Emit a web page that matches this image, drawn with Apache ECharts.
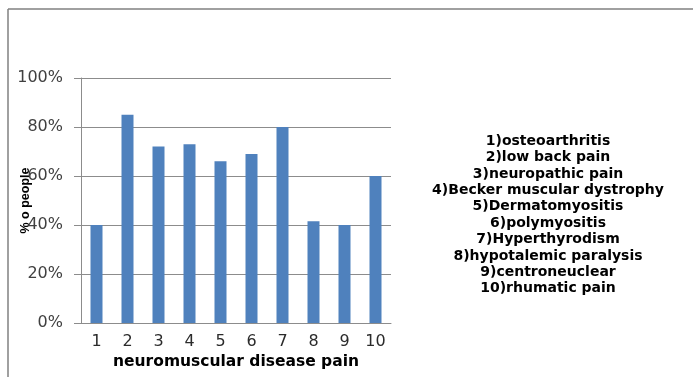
<!DOCTYPE html>
<html>
<head>
<meta charset="utf-8">
<script src="https://cdn.jsdelivr.net/npm/echarts@6/dist/echarts.min.js"></script>
<style>
  html, body { margin: 0; padding: 0; background: #ffffff; }
  #chart { width: 693px; height: 377px; }
</style>
</head>
<body>
<div id="chart"></div>
<script>
// Category numbers along the x axis
const categories = ['1', '2', '3', '4', '5', '6', '7', '8', '9', '10'];
// Share of people (%) for each condition
const percentPeople = [40, 85, 72, 73, 66, 69, 80, 41.5, 40, 60];
// Condition names shown in the key on the right
const conditionNames = [
  'osteoarthritis',
  'low back pain',
  'neuropathic pain',
  'Becker muscular dystrophy',
  'Dermatomyositis',
  'polymyositis',
  'Hyperthyrodism',
  'hypotalemic paralysis',
  'centroneuclear',
  'rhumatic pain'
];
// Y axis ticks (%)
const yTicks = [0, 20, 40, 60, 80, 100];

const fontFam = '"DejaVu Sans", "Liberation Sans", sans-serif';
const keyText = conditionNames.map((n, i) => categories[i] + ')' + n).join('\n');

const chart = echarts.init(document.getElementById('chart'));
chart.setOption({
  backgroundColor: '#ffffff',
  animation: false,
  grid: { left: 81, right: 302, top: 78, bottom: 54, containLabel: false },
  xAxis: {
    type: 'category',
    data: categories,
    name: 'neuromuscular disease pain',
    nameLocation: 'middle',
    nameGap: 31,
    nameMoveOverlap: false,
    nameTextStyle: { fontFamily: fontFam, fontWeight: 'bold', fontSize: 15.5, color: '#000000' },
    axisLine: { lineStyle: { color: '#8c8c8c', width: 1 } },
    axisTick: { show: false },
    axisLabel: { fontFamily: fontFam, fontSize: 16, color: '#2b2b2b', margin: 11 }
  },
  yAxis: {
    type: 'value',
    min: yTicks[0],
    max: yTicks[yTicks.length - 1],
    interval: 20,
    name: '% o people',
    nameLocation: 'middle',
    nameGap: 49,
    nameMoveOverlap: false,
    nameRotate: 90,
    nameTextStyle: { fontFamily: '"Liberation Sans", Arial, sans-serif', fontWeight: 'bold', fontSize: 12.5, color: '#000000' },
    axisLine: { show: true, lineStyle: { color: '#8c8c8c', width: 1 } },
    axisTick: { show: true, length: 7, lineStyle: { color: '#8c8c8c' } },
    axisLabel: { formatter: '{value}%', fontFamily: fontFam, fontSize: 16, color: '#404040', margin: 18 },
    splitLine: { lineStyle: { color: '#8c8c8c', width: 1 } }
  },
  series: [{
    type: 'bar',
    data: percentPeople,
    barWidth: 12,
    itemStyle: { color: '#4f81bd' }
  }],
  graphic: [
    { type: 'line', shape: { x1: 8, y1: 9, x2: 700, y2: 9 }, style: { stroke: '#808080', lineWidth: 1.5 } },
    { type: 'line', shape: { x1: 8, y1: 9, x2: 8, y2: 380 }, style: { stroke: '#808080', lineWidth: 1.5 } },
    {
      type: 'text',
      left: 548 - 130,
      top: 133,
      style: {
        text: keyText,
        x: 0, y: 0,
        width: 260,
        align: 'center',
        textAlign: 'center',
        lineHeight: 16.4,
        fontFamily: fontFam,
        fontWeight: 'bold',
        fontSize: 14,
        fill: '#000000'
      }
    }
  ]
});
</script>
</body>
</html>
